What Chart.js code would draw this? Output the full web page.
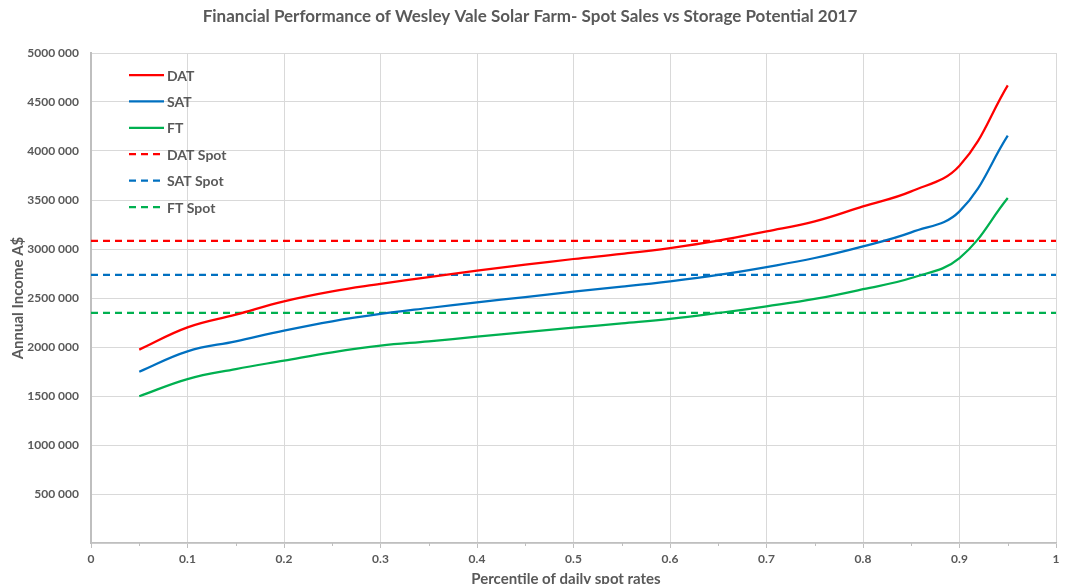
<!DOCTYPE html>
<html>
<head>
<meta charset="utf-8">
<script src="https://cdn.jsdelivr.net/npm/chart.js@4.4.1/dist/chart.umd.min.js"></script>
<style>
  html, body { margin: 0; padding: 0; background: #ffffff; }
  #wrap { width: 1069px; height: 584px; position: relative; }
</style>
</head>
<body>
<div id="wrap"><canvas id="incomeChart" width="1069" height="584"></canvas></div>
<script>
// Percentil de tarifas spot diarias
const percentiles = [0.05, 0.1, 0.15, 0.2, 0.25, 0.3, 0.35, 0.4, 0.45, 0.5,
                     0.55, 0.6, 0.65, 0.7, 0.75, 0.8, 0.85, 0.9, 0.95];

// Ingreso anual (A$) con almacenamiento
const datIncome = [1973000, 2200000, 2330000, 2466000, 2568000, 2643000, 2714000, 2779000, 2840000, 2898000,
                   2950000, 3010000, 3085000, 3180000, 3282000, 3435000, 3588000, 3850000, 4670000];
const satIncome = [1748000, 1956000, 2058000, 2167000, 2262000, 2337000, 2398000, 2456000, 2510000, 2565000,
                   2615000, 2670000, 2735000, 2816000, 2908000, 3027000, 3170000, 3384000, 4156000];
const ftIncome  = [1497000, 1673000, 1775000, 1861000, 1946000, 2014000, 2058000, 2105000, 2153000, 2197000,
                   2241000, 2286000, 2347000, 2415000, 2490000, 2590000, 2704000, 2908000, 3520000];

// Ventas spot (constantes)
const spotRange = [0, 1];
const datSpot = 3082000;
const satSpot = 2735000;
const ftSpot  = 2347000;

const seriesLabels = ["DAT", "SAT", "FT", "DAT Spot", "SAT Spot", "FT Spot"];

const RED = "#ff0000", BLUE = "#0070c0", GREEN = "#00b050";
const GRAY_TEXT = "#595959";
const FONT = "Lato, 'Liberation Sans', sans-serif";

function toPoints(xs, ys) {
    return xs.map((x, i) => ({ x: x, y: ys[i] }));
}
function flatLine(value) {
    return spotRange.map(x => ({ x: x, y: value }));
}

// Formato "4500 000"
function formatIncome(v) {
    if (v === 0) return "";
    const miles = Math.floor(v / 1000);
    const resto = v % 1000;
    return miles + " " + String(resto).padStart(3, "0");
}

// Título del gráfico y título del eje x
const titlePlugin = {
    id: "topTitle",
    afterDraw(chart) {
        const ctx = chart.ctx;
        ctx.save();
        ctx.fillStyle = GRAY_TEXT;
        ctx.textAlign = "center";
        ctx.textBaseline = "middle";
        ctx.font = "bold 17px " + FONT;
        ctx.fillText("Financial Performance of Wesley Vale Solar Farm- Spot Sales vs Storage Potential 2017", 530, 17);
        ctx.font = "bold 15px " + FONT;
        ctx.fillText("Percentile of daily spot rates", 566, 579);
        ctx.restore();
    }
};

// Marcas menores en el eje x
const minorTicks = {
    id: "minorTicks",
    afterDraw(chart) {
        const sx = chart.scales.x;
        const ctx = chart.ctx;
        const bottom = chart.chartArea.bottom;
        ctx.save();
        ctx.strokeStyle = "#bfbfbf";
        ctx.lineWidth = 1;
        for (let k = 0; k < 10; k++) {
            const px = Math.round(sx.getPixelForValue(0.05 + k * 0.1)) + 0.5;
            ctx.beginPath();
            ctx.moveTo(px, bottom);
            ctx.lineTo(px, bottom + 3);
            ctx.stroke();
        }
        ctx.restore();
    }
};

// Leyenda dentro del área del gráfico
const insideLegend = {
    id: "insideLegend",
    afterDraw(chart) {
        const ctx = chart.ctx;
        ctx.save();
        ctx.font = "bold 14px " + FONT;
        ctx.textBaseline = "middle";
        chart.data.datasets.forEach((ds, i) => {
            const y = 75 + i * 26.4;
            ctx.strokeStyle = ds.borderColor;
            ctx.lineWidth = 2.25;
            ctx.setLineDash(ds.borderDash || []);
            ctx.beginPath();
            ctx.moveTo(129, y);
            ctx.lineTo(164, y);
            ctx.stroke();
            ctx.setLineDash([]);
            ctx.fillStyle = GRAY_TEXT;
            ctx.fillText(ds.label, 167, y + 1);
        });
        ctx.restore();
    }
};

function curve(label, color, values) {
    return {
        label: label,
        data: toPoints(percentiles, values),
        borderColor: color,
        backgroundColor: color,
        borderWidth: 2.25,
        pointRadius: 0,
        tension: 0.4,
        fill: false
    };
}
function spot(label, color, value) {
    return {
        label: label,
        data: flatLine(value),
        borderColor: color,
        backgroundColor: color,
        borderWidth: 2.25,
        borderDash: [7, 5],
        pointRadius: 0,
        tension: 0,
        fill: false
    };
}

const ctx = document.getElementById("incomeChart").getContext("2d");
const incomeChart = new Chart(ctx, {
    type: "line",
    data: {
        datasets: [
            curve(seriesLabels[0], RED, datIncome),
            curve(seriesLabels[1], BLUE, satIncome),
            curve(seriesLabels[2], GREEN, ftIncome),
            spot(seriesLabels[3], RED, datSpot),
            spot(seriesLabels[4], BLUE, satSpot),
            spot(seriesLabels[5], GREEN, ftSpot)
        ]
    },
    options: {
        responsive: false,
        animation: false,
        layout: { padding: { top: 53, right: 13, bottom: 0, left: 0 } },
        plugins: {
            legend: { display: false },
            title: { display: false },
            tooltip: { enabled: false }
        },
        scales: {
            x: {
                type: "linear",
                min: 0,
                max: 1,
                ticks: {
                    stepSize: 0.1,
                    color: GRAY_TEXT,
                    font: { family: FONT, size: 12, weight: "bold" },
                    padding: 4,
                    maxRotation: 0,
                    callback: v => String(+v.toFixed(1))
                },
                grid: { color: "#d9d9d9", lineWidth: 1, tickLength: 5, tickColor: "#bfbfbf" },
                border: { color: "#bfbfbf", width: 1.5 },
                afterFit(scale) { scale.height = 41; }
            },
            y: {
                min: 0,
                max: 5000000,
                ticks: {
                    stepSize: 500000,
                    color: GRAY_TEXT,
                    font: { family: FONT, size: 12, weight: "bold" },
                    padding: 12,
                    callback: v => formatIncome(v)
                },
                grid: { color: "#d9d9d9", lineWidth: 1, drawTicks: false },
                border: { color: "#bfbfbf", width: 2 },
                title: {
                    display: true,
                    text: "Annual Income A$",
                    color: GRAY_TEXT,
                    font: { family: FONT, size: 15, weight: "bold" },
                    padding: { top: 9, bottom: 0 }
                },
                afterFit(scale) { scale.width = 91; }
            }
        }
    },
    plugins: [titlePlugin, minorTicks, insideLegend]
});
</script>
</body>
</html>
